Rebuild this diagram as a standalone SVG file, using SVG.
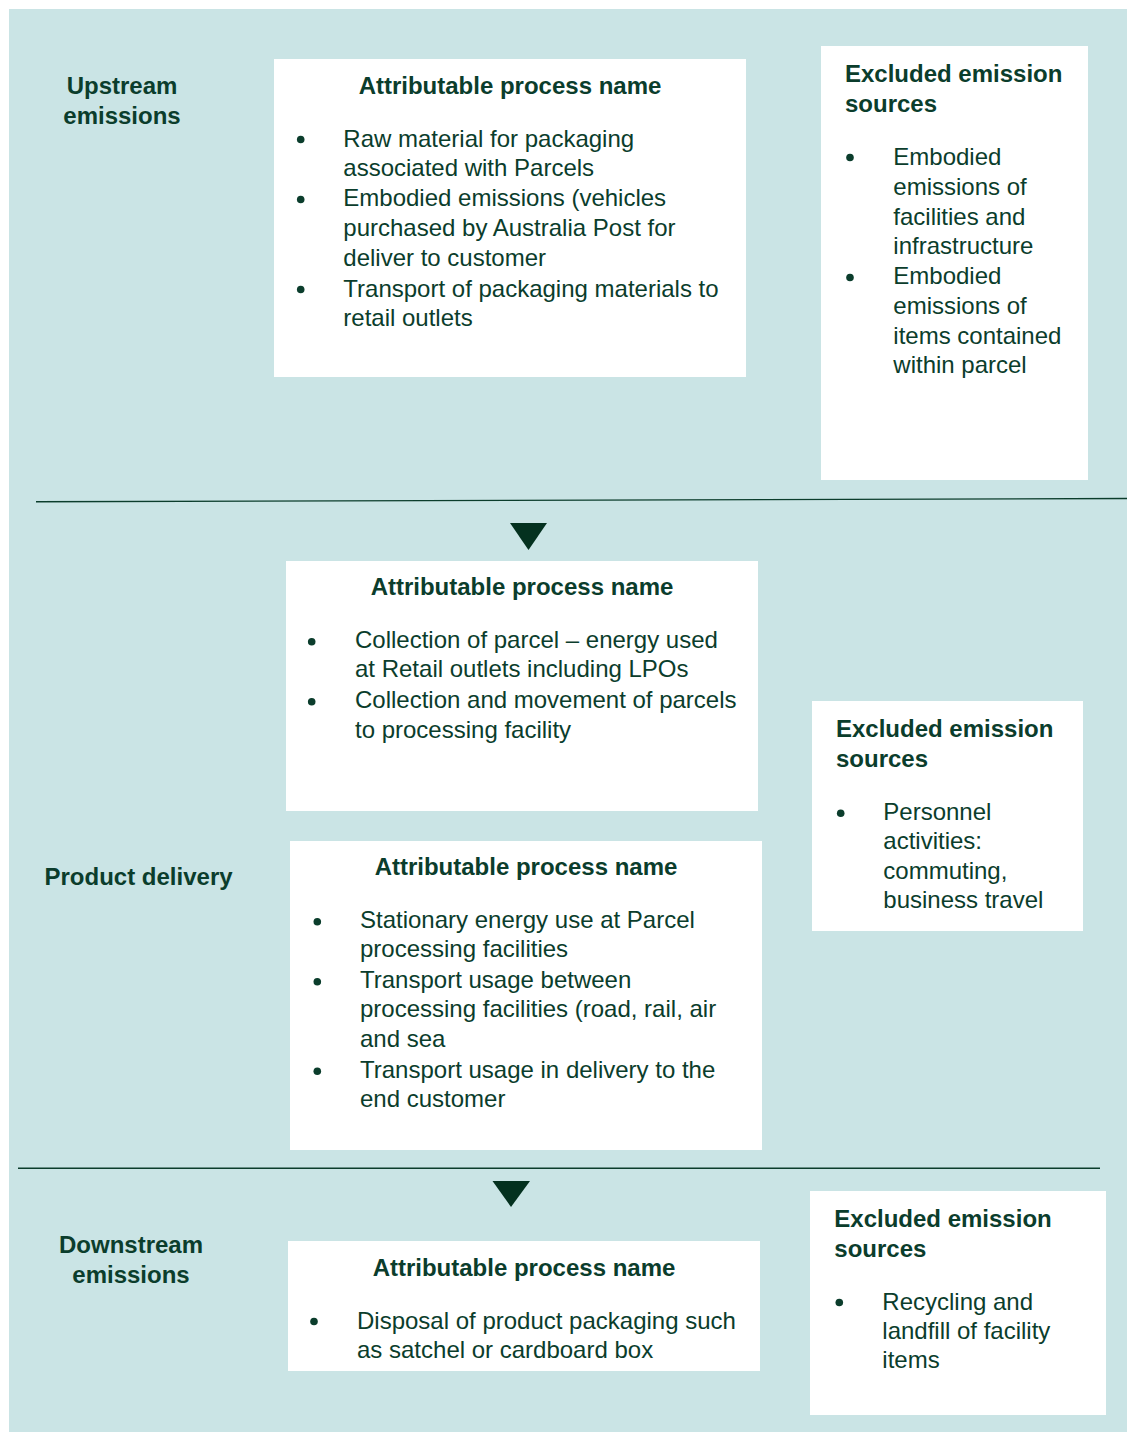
<svg xmlns="http://www.w3.org/2000/svg" width="1127" height="1432" viewBox="0 0 1127 1432">
<style>
  text { font-family: "Liberation Sans", Arial, sans-serif; fill: #0b3d2c; font-size: 24px; }
  .b { font-weight: bold; }
  .c { text-anchor: middle; }
  .box { fill: #ffffff; }
  .dot { fill: #0b3d2c; }
  .sep { stroke: #0b3d2c; stroke-width: 1.4; fill: none; }
  .tri { fill: #04311f; }
</style>
<rect x="9" y="9" width="1118" height="1423" fill="#cae4e5"/>

<g id="label-upstream">
  <text class="b c" x="122" y="94">Upstream</text>
  <text class="b c" x="122" y="124">emissions</text>
</g>
<g id="label-product">
  <text class="b" x="44.5" y="885">Product delivery</text>
</g>
<g id="label-downstream">
  <text class="b c" x="131" y="1253">Downstream</text>
  <text class="b c" x="131" y="1283">emissions</text>
</g>

<g id="upstream-attributable">
  <rect class="box" x="274" y="59" width="472" height="318"/>
  <text class="b c" x="510" y="94">Attributable process name</text>
  <circle class="dot" cx="300.7" cy="139.5" r="3.8"/>
  <circle class="dot" cx="300.7" cy="199.5" r="3.8"/>
  <circle class="dot" cx="300.7" cy="289.5" r="3.8"/>
  <text x="343.3" y="146.5">Raw material for packaging</text>
  <text x="343.3" y="176.3">associated with Parcels</text>
  <text x="343.3" y="206.3">Embodied emissions (vehicles</text>
  <text x="343.3" y="236.3">purchased by Australia Post for</text>
  <text x="343.3" y="266.3">deliver to customer</text>
  <text x="343.3" y="296.5">Transport of packaging materials to</text>
  <text x="343.3" y="326.3">retail outlets</text>
</g>

<g id="upstream-excluded">
  <rect class="box" x="821" y="46" width="267" height="434"/>
  <text class="b" x="845" y="82">Excluded emission</text>
  <text class="b" x="845" y="112">sources</text>
  <circle class="dot" cx="850" cy="157.5" r="3.8"/>
  <circle class="dot" cx="850" cy="277.5" r="3.8"/>
  <text x="893.3" y="165">Embodied</text>
  <text x="893.3" y="194.8">emissions of</text>
  <text x="893.3" y="224.5">facilities and</text>
  <text x="893.3" y="254.2">infrastructure</text>
  <text x="893.3" y="284">Embodied</text>
  <text x="893.3" y="313.8">emissions of</text>
  <text x="893.3" y="343.5">items contained</text>
  <text x="893.3" y="373.2">within parcel</text>
</g>

<g id="product-attributable-1">
  <rect class="box" x="286" y="561" width="472" height="250"/>
  <text class="b c" x="522" y="594.5">Attributable process name</text>
  <circle class="dot" cx="311.7" cy="641.7" r="3.8"/>
  <circle class="dot" cx="311.7" cy="701.7" r="3.8"/>
  <text x="355" y="647.7">Collection of parcel – energy used</text>
  <text x="355" y="677">at Retail outlets including LPOs</text>
  <text x="355" y="707.7">Collection and movement of parcels</text>
  <text x="355" y="737.5">to processing facility</text>
</g>

<g id="product-attributable-2">
  <rect class="box" x="290" y="841" width="472" height="309"/>
  <text class="b c" x="526" y="875">Attributable process name</text>
  <circle class="dot" cx="317.3" cy="921.7" r="3.8"/>
  <circle class="dot" cx="317.3" cy="981.7" r="3.8"/>
  <circle class="dot" cx="317.3" cy="1071.3" r="3.8"/>
  <text x="360" y="927.7">Stationary energy use at Parcel</text>
  <text x="360" y="957">processing facilities</text>
  <text x="360" y="987.7">Transport usage between</text>
  <text x="360" y="1017.3">processing facilities (road, rail, air</text>
  <text x="360" y="1046.8">and sea</text>
  <text x="360" y="1077.7">Transport usage in delivery to the</text>
  <text x="360" y="1107.3">end customer</text>
</g>

<g id="product-excluded">
  <rect class="box" x="812" y="701" width="271" height="230"/>
  <text class="b" x="836" y="737">Excluded emission</text>
  <text class="b" x="836" y="766.5">sources</text>
  <circle class="dot" cx="840.7" cy="813.3" r="3.8"/>
  <text x="883.3" y="819.5">Personnel</text>
  <text x="883.3" y="849">activities:</text>
  <text x="883.3" y="878.7">commuting,</text>
  <text x="883.3" y="908">business travel</text>
</g>

<g id="downstream-attributable">
  <rect class="box" x="288" y="1241" width="472" height="130"/>
  <text class="b c" x="524" y="1275.5">Attributable process name</text>
  <circle class="dot" cx="314" cy="1321.5" r="3.8"/>
  <text x="357" y="1328.5">Disposal of product packaging such</text>
  <text x="357" y="1358">as satchel or cardboard box</text>
</g>

<g id="downstream-excluded">
  <rect class="box" x="810" y="1191" width="296" height="224"/>
  <text class="b" x="834.3" y="1227.3">Excluded emission</text>
  <text class="b" x="834.3" y="1257.3">sources</text>
  <circle class="dot" cx="839.3" cy="1302.5" r="3.8"/>
  <text x="882.3" y="1309.5">Recycling and</text>
  <text x="882.3" y="1338.8">landfill of facility</text>
  <text x="882.3" y="1368">items</text>
</g>

<g id="connectors">
  <line class="sep" x1="36" y1="501.8" x2="1127" y2="498.5"/>
  <polygon class="tri" points="510,523 547,523 528.5,550"/>
  <line class="sep" x1="18" y1="1168.3" x2="1100" y2="1168.3"/>
  <polygon class="tri" points="492.5,1181 530,1181 511,1207"/>
</g>
</svg>
